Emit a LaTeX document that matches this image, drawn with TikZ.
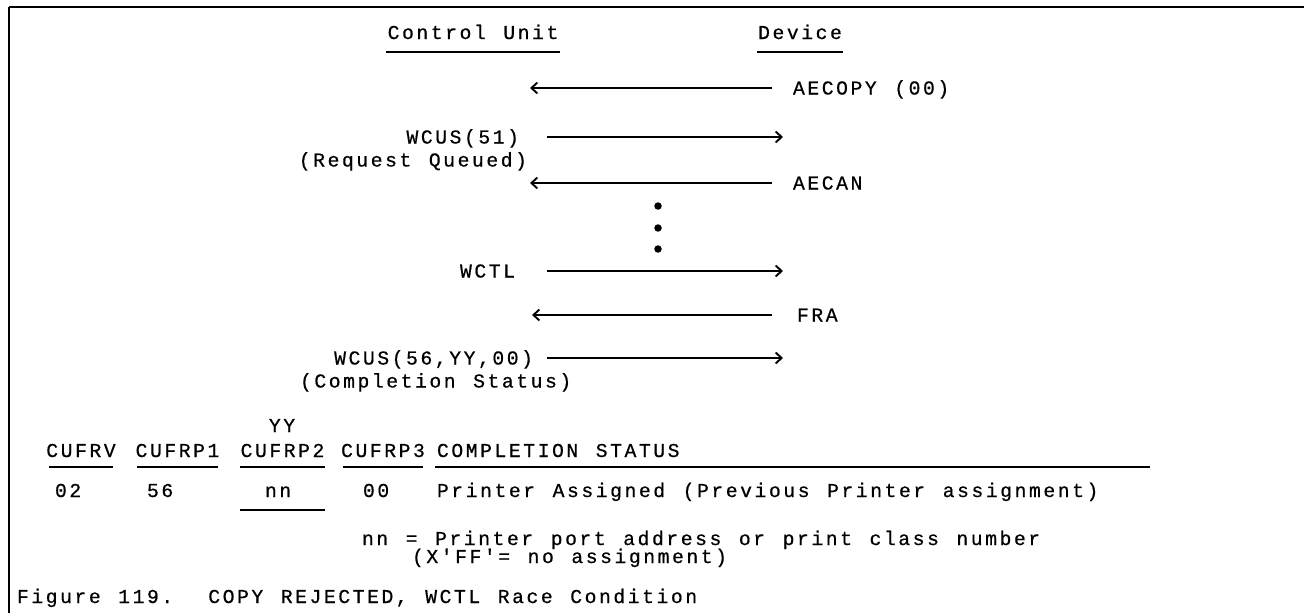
\documentclass[tikz,border=0pt]{standalone}
\usepackage{fontspec}
\setmonofont[LetterSpace=13,WordSpace=1.22,FakeBold=0.6]{Liberation Mono}
\usetikzlibrary{arrows.meta}
\begin{document}
\begin{tikzpicture}[x=1pt,y=-1pt,
  txt/.style={font=\ttfamily\fontsize{19.7}{22}\selectfont, inner sep=0pt, outer sep=0pt},
  rule/.style={line width=1.8pt},
  frame/.style={line width=1.4pt},
  arr/.style={line width=1.9pt, -{Straight Barb[length=6pt,width=11pt]}},
  dotmark/.style={circle, fill=black, inner sep=0pt, minimum size=7.5pt}]
\useasboundingbox (0,0) rectangle (1304,613);
% frame
\draw[frame, line width=2.6pt] (9,7) -- (1304,7);
\draw[frame] (9,7) -- (9,613);
% headings
\node[txt, anchor=base] (cu) at (473,39) {Control Unit};
\node[txt, anchor=base] (dev) at (800,39) {Device};
\draw[rule] (386,52) -- (560,52);
\draw[rule] (757,52) -- (843,52);
% row A
\coordinate (aR) at (772,88); \coordinate (aL) at (530,88);
\draw[arr] (aR) -- (aL);
\node[txt, anchor=base west] (aecopy) at (793,94.5) {AECOPY (00)};
% row B
\node[txt, anchor=base east] (wcus51) at (519,143.5) {WCUS(51)};
\node[txt, anchor=base east] (rq) at (527,166.5) {(Request Queued)};
\coordinate (bL) at (547,137); \coordinate (bR) at (783,137);
\draw[arr] (bL) -- (bR);
% row C
\coordinate (cR) at (772,183); \coordinate (cL) at (530,183);
\draw[arr] (cR) -- (cL);
\node[txt, anchor=base west] (aecan) at (793,189.5) {AECAN};
% dots
\node[dotmark] (d1) at (658,206) {};
\node[dotmark] (d2) at (658,228) {};
\node[dotmark] (d3) at (658,249) {};
% row D
\node[txt, anchor=base east] (wctl) at (515,277.5) {WCTL};
\coordinate (dL) at (547,271); \coordinate (dR) at (783,271);
\draw[arr] (dL) -- (dR);
% row E
\coordinate (eR) at (772,315); \coordinate (eL) at (532,315);
\draw[arr] (eR) -- (eL);
\node[txt, anchor=base west] (fra) at (797,321.5) {FRA};
% row F
\node[txt, anchor=base east] (wcus56) at (533,364.5) {WCUS(56,YY,00)};
\node[txt, anchor=base west] (cs) at (300,387.5) {(Completion Status)};
\coordinate (fL) at (547,358); \coordinate (fR) at (783,358);
\draw[arr] (fL) -- (fR);
% table
\node[txt, anchor=base] (yy) at (282,432) {YY};
\node[txt, anchor=base] (h1) at (81,457) {CUFRV};
\node[txt, anchor=base] (h2) at (177.5,457) {CUFRP1};
\node[txt, anchor=base] (h3) at (282.5,457) {CUFRP2};
\node[txt, anchor=base] (h4) at (383,457) {CUFRP3};
\node[txt, anchor=base west] (h5) at (437,457) {COMPLETION STATUS};
\draw[rule] (49,467) -- (113,467);
\draw[rule] (137,467) -- (218,467);
\draw[rule] (240,467) -- (325,467);
\draw[rule] (343,467) -- (423,467);
\draw[rule] (435,467) -- (1150,467);
\node[txt, anchor=base west] (v1) at (55,497) {02};
\node[txt, anchor=base west] (v2) at (147,497) {56};
\node[txt, anchor=base west] (v3) at (265,497) {nn};
\node[txt, anchor=base west] (v4) at (363,497) {00};
\node[txt, anchor=base west] (v5) at (437,497) {Printer Assigned (Previous Printer assignment)};
\draw[rule] (240,510) -- (325,510);
\node[txt, anchor=base west] (n1) at (362,545) {nn = Printer port address or print class number};
\node[txt, anchor=base west] (n2) at (412,563) {(X'FF'= no assignment)};
\node[txt, anchor=base west] (cap) at (17,603) {Figure 119.\ \ COPY REJECTED, WCTL Race Condition};
\end{tikzpicture}
\end{document}
